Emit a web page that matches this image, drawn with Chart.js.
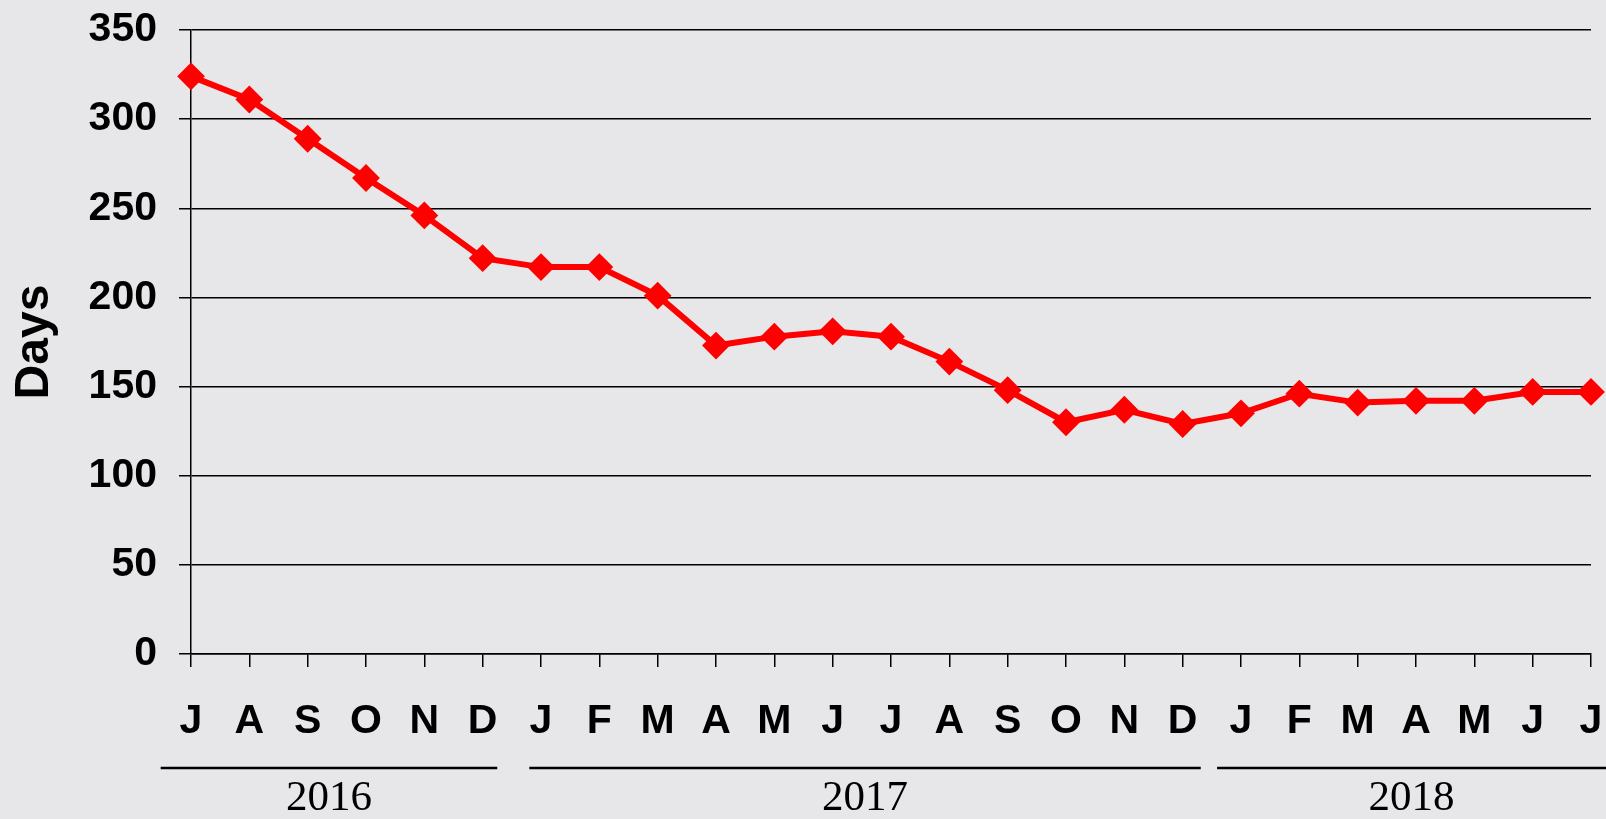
<!DOCTYPE html>
<html>
<head>
<meta charset="utf-8">
<script src="https://cdn.jsdelivr.net/npm/chart.js@4"></script>
<style>
  html, body { margin: 0; padding: 0; background: #e7e7ea; }
  #wrap { width: 1606px; height: 819px; }
</style>
</head>
<body>
<div id="wrap"><canvas id="daysChart" width="1606" height="819"></canvas></div>
<script>
// months from July 2016 to July 2018
const monthLabels = ['J', 'A', 'S', 'O', 'N', 'D',
  'J', 'F', 'M', 'A', 'M', 'J', 'J', 'A', 'S', 'O', 'N', 'D',
  'J', 'F', 'M', 'A', 'M', 'J', 'J'];
const daysValues = [324, 311, 289, 267, 246, 222,
  217, 217, 201, 173, 178, 181, 178, 164, 148, 130, 137, 129,
  135, 146, 141, 142, 142, 147, 147];

// year groups under the month axis (month index range)
const yearLabels = ['2016', '2017', '2018'];
const yearFirstMonth = [0, 6, 18];
const yearLastMonth = [5, 17, 24];

const sansBold = { family: '"Liberation Sans", Arial, sans-serif', weight: 'bold', size: 41 };

// draws the year lines + year text below month labels
// overhang of each line past its first / last month, in month steps
const lineOverLeft = [0.52, 0.2, 0.41];
const lineOverRight = [0.25, 0.31, 0];
const yearBrackets = {
  id: 'yearBrackets',
  afterDraw(chart) {
    const ctx = chart.ctx;
    const x = chart.scales.x;
    const step = x.getPixelForValue(1) - x.getPixelForValue(0);
    const lineY = chart.chartArea.bottom + 114;
    const textY = chart.chartArea.bottom + 145;
    ctx.save();
    ctx.strokeStyle = '#000';
    ctx.fillStyle = '#000';
    ctx.lineWidth = 2.5;
    ctx.font = '43px "Liberation Serif", "Times New Roman", serif';
    ctx.textAlign = 'center';
    ctx.textBaseline = 'middle';
    yearLabels.forEach((yr, i) => {
      const x0 = x.getPixelForValue(yearFirstMonth[i]) - step * lineOverLeft[i];
      let x1 = x.getPixelForValue(yearLastMonth[i]) + step * lineOverRight[i];
      if (i === yearLabels.length - 1) x1 = chart.width;
      ctx.beginPath();
      ctx.moveTo(x0, lineY);
      ctx.lineTo(x1, lineY);
      ctx.stroke();
      ctx.fillText(yr, (x0 + x1) / 2, textY);
    });
    ctx.restore();
  }
};

const ctx = document.getElementById('daysChart').getContext('2d');

new Chart(ctx, {
  type: 'line',
  data: {
    labels: monthLabels,
    datasets: [{
      label: 'Days',
      data: daysValues,
      borderColor: '#ff0000',
      backgroundColor: '#ff0000',
      borderWidth: 6,
      pointStyle: 'rectRot',
      pointRadius: 12.5,
      pointBorderWidth: 2,
      pointBackgroundColor: '#ff0000',
      pointBorderColor: '#ff0000',
      tension: 0,
      fill: false,
      clip: false
    }]
  },
  options: {
    responsive: false,
    animation: false,
    layout: { padding: { top: 30, right: 15, left: 0, bottom: 0 } },
    plugins: {
      legend: { display: false },
      tooltip: { enabled: false }
    },
    scales: {
      x: {
        offset: false,
        grid: { drawOnChartArea: false, drawTicks: true, tickLength: 13, color: '#000', lineWidth: 1.5 },
        border: { color: '#000', width: 1.5 },
        ticks: { color: '#000', font: sansBold, padding: 30, maxRotation: 0, autoSkip: false },
        afterFit(scale) {
          scale.height = 165;
          scale.paddingLeft = 0;
          scale.paddingRight = 0;
        }
      },
      y: {
        min: 0,
        max: 350,
        ticks: { stepSize: 50, color: '#000', font: sansBold, padding: 22 },
        grid: { color: '#000', lineWidth: 1.5, tickLength: 12 },
        border: { color: '#000', width: 1.5 },
        title: {
          display: true,
          text: 'Days',
          color: '#000',
          font: { family: '"Liberation Sans", Arial, sans-serif', weight: 'bold', size: 48 },
          padding: { top: 6, bottom: 0 }
        },
        afterFit(scale) {
          scale.width = 191;
          scale.paddingTop = 0;
          scale.paddingBottom = 0;
        }
      }
    }
  },
  plugins: [yearBrackets]
});
</script>
</body>
</html>
